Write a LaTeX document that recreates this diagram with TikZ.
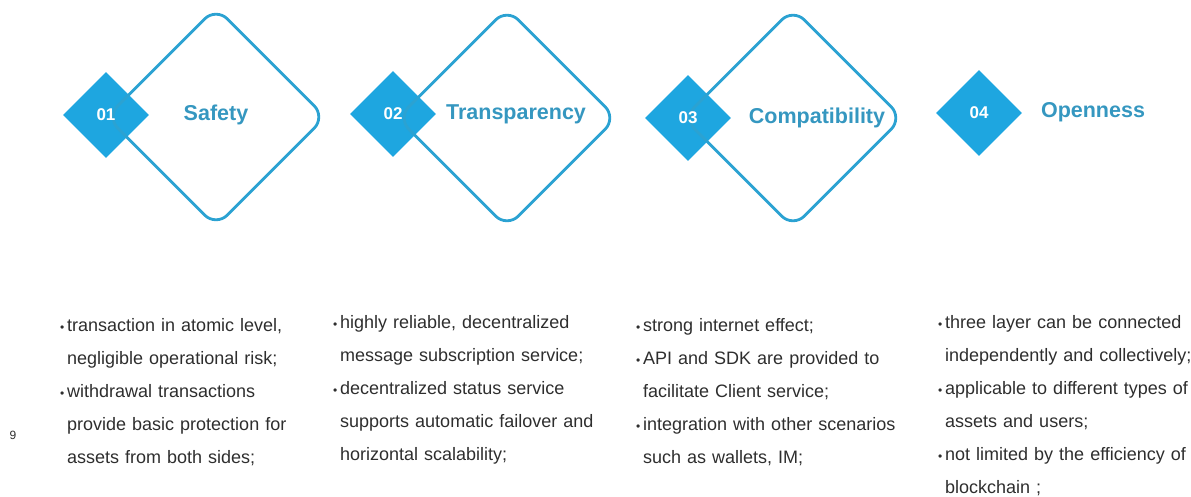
\documentclass[tikz,border=0pt]{standalone}
\usepackage{fontspec}
\setmainfont{Liberation Sans}
\usetikzlibrary{shapes.geometric}
\definecolor{numblue}{HTML}{1EA6E0}
\definecolor{lineblue}{HTML}{2BA2D2}
\definecolor{titleblue}{HTML}{3597C0}
\definecolor{bodygray}{HTML}{2E2E2E}
\newcommand{\pt}{\leavevmode\llap{{\fontsize{12}{12}\selectfont\textbullet}\hspace{3pt}}}

\begin{document}
\begin{tikzpicture}[
    x=1pt, y=-1pt,
    numbox/.style={diamond, fill=numblue, draw=none, aspect=1,
        minimum width=86pt, minimum height=86pt, inner sep=0pt,
        text=white, font=\fontsize{17}{17}\selectfont\bfseries},
    frame/.style={diamond, draw=lineblue, line width=2.8pt, aspect=1,
        rounded corners=16pt, minimum width=220pt, minimum height=220pt,
        inner sep=0pt},
    title/.style={text=titleblue, inner sep=0pt,
        font=\fontsize{21.5}{21.5}\selectfont\bfseries},
    body/.style={anchor=base west, inner sep=0pt, align=left,
        text width=300pt, text=bodygray,
        font=\fontsize{18}{33}\selectfont}
]
    \useasboundingbox (0,0) rectangle (1191,497);
    \node[numbox] (num1) at (106,115) {};
    \node[numbox] (num2) at (393,114) {};
    \node[numbox] (num3) at (688,118) {};
    \node[numbox] (num4) at (979,113) {};
    \node[frame] (frame1) at (216,117) {};
    \node[frame] (frame2) at (507,118) {};
    \node[frame] (frame3) at (793,118) {};
    \node[text=white, font=\fontsize{17}{17}\selectfont\bfseries] (lbl1) at (num1) {01};
    \node[text=white, font=\fontsize{17}{17}\selectfont\bfseries] (lbl2) at (num2) {02};
    \node[text=white, font=\fontsize{17}{17}\selectfont\bfseries] (lbl3) at (num3) {03};
    \node[text=white, font=\fontsize{17}{17}\selectfont\bfseries] (lbl4) at (num4) {04};
    \node[title] (title1) at (216,115) {Safety};
    \node[title] (title2) at (516,114) {Transparency};
    \node[title] (title3) at (817,118) {Compatibility};
    \node[title] (title4) at (1093,112) {Openness};
    \node[body] (text1) at (67,331) {\pt transaction in atomic level,\\
        negligible operational risk;\\
        \pt withdrawal transactions\\
        provide basic protection for\\
        assets from both sides;};
    \node[body] (text2) at (340,328) {\pt highly reliable, decentralized\\
        message subscription service;\\
        \pt decentralized status service\\
        supports automatic failover and\\
        horizontal scalability;};
    \node[body] (text3) at (643,331) {\pt strong internet effect;\\
        \pt API and SDK are provided to\\
        facilitate Client service;\\
        \pt integration with other scenarios\\
        such as wallets, IM;};
    \node[body] (text4) at (945,328) {\pt three layer can be connected\\
        independently and collectively;\\
        \pt applicable to different types of\\
        assets and users;\\
        \pt not limited by the efficiency of\\
        blockchain ;};
    \node[text=bodygray, font=\fontsize{12}{12}\selectfont] (page) at (13,435) {9};
\end{tikzpicture}
\end{document}
